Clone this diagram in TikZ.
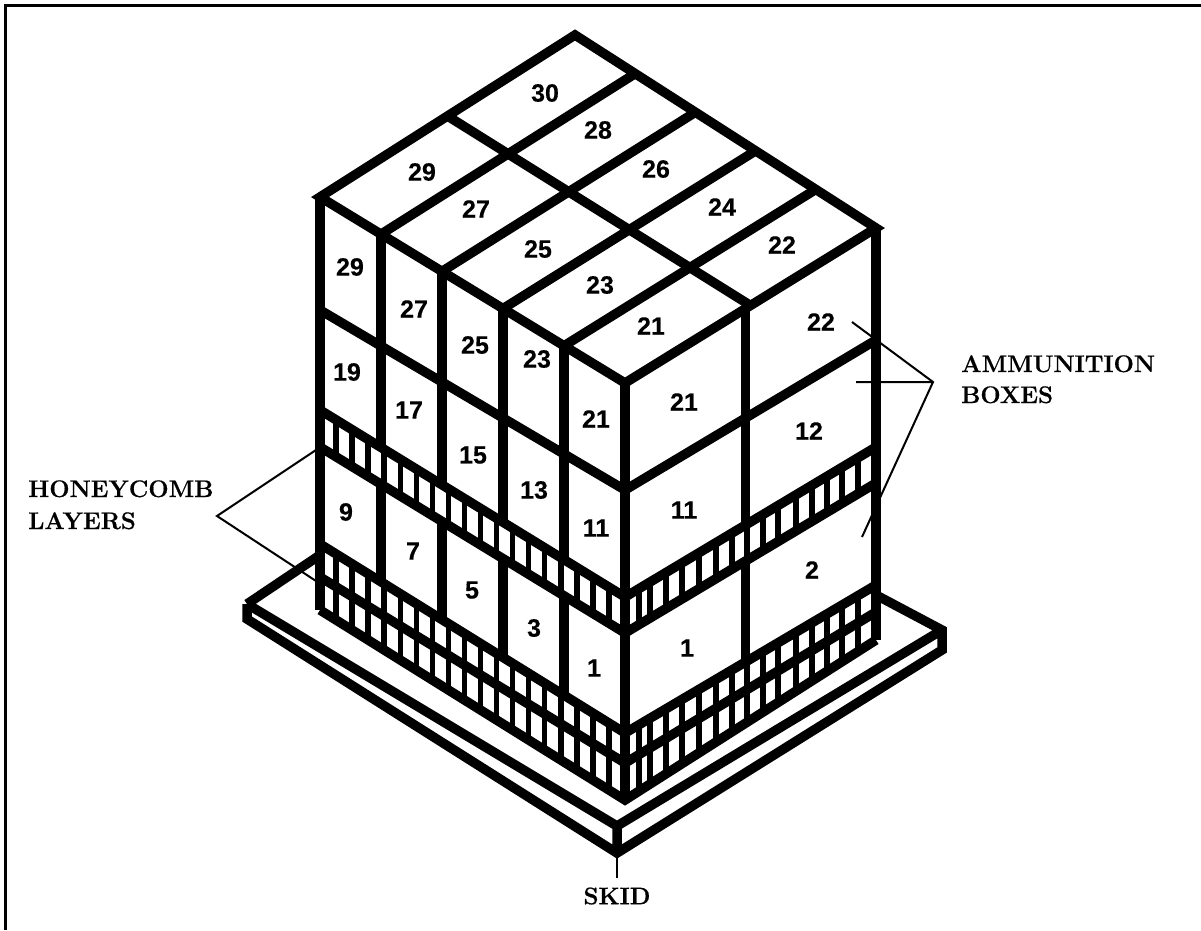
\documentclass[tikz,border=0pt]{standalone}
\usepackage{fontspec}
\usepackage{tikz}
\usetikzlibrary{calc}
\setmainfont{Latin Modern Roman}[BoldFeatures={FakeBold=0.5}]
\newfontfamily\numfont{Liberation Sans}[BoldFeatures={FakeBold=0.3}]
\tikzset{
    heavy/.style={line width=9.5pt, line join=miter},
    cellbar/.style={line width=5.5pt},
    leader/.style={line width=2pt},
    boxnum/.style={font=\numfont\bfseries\fontsize{25}{25}\selectfont, inner sep=0pt},
    callout/.style={font=\bfseries\fontsize{24}{28}\selectfont, inner sep=0pt, anchor=base west}
}
\begin{document}
\begin{tikzpicture}[x=1pt, y=-1pt]
    \useasboundingbox (0,0) rectangle (1201,930);
    \draw[line width=3pt] (5.5,930) -- (5.5,5.5) -- (1201,5.5);
    % levels on the left edge, the front edge and the right edge
    \coordinate (lt) at (320,197);  \coordinate (ft) at (625,383);  \coordinate (rt) at (876,228);
    \coordinate (la) at (320,310);  \coordinate (fa) at (625,490);  \coordinate (ra) at (876,340);
    \coordinate (lb) at (320,410);  \coordinate (fb) at (625,597);  \coordinate (rb) at (876,447);
    \coordinate (lc) at (320,447);  \coordinate (fc) at (625,633);  \coordinate (rc) at (876,483);
    \coordinate (ld) at (320,544);  \coordinate (fd) at (625,733);  \coordinate (rd) at (876,585);
    \coordinate (le) at (320,577);  \coordinate (fe) at (625,763);  \coordinate (re) at (876,612);
    \coordinate (lf) at (320,610);  \coordinate (ff) at (625,800);  \coordinate (rf) at (876,640);
    \coordinate (apex) at (575,35);
    % skid
    \coordinate (sl) at (247,604);  \coordinate (sf) at (617,826);  \coordinate (sr) at (942,630);
    \coordinate (slb) at (247,619); \coordinate (sfb) at (617,853); \coordinate (srb) at (942,650);
    \coordinate (sbl) at (320,555); \coordinate (sbr) at (876,595);
    \draw[heavy] (sl) -- (slb) -- (sfb) -- (srb) -- (sr) -- (sbr) (sf) -- (sfb)
        (sl) -- (sf) -- (sr) (sl) -- (sbl);
    \fill[white] (lt) -- (apex) -- (rt) -- (rf) -- (ff) -- (lf) -- cycle;
    % top face
    \draw[heavy] (lt) -- (apex) -- (rt) -- (ft) -- cycle;
    \draw[heavy] ($(lt)!0.5!(apex)$) -- ($(ft)!0.5!(rt)$);
    \foreach \k in {1,2,3,4}
        \draw[heavy] ($(lt)!\k/5!(ft)$) -- ($(apex)!\k/5!(rt)$);
    % levels
    \foreach \lv in {a,b,c,d,e,f}
        \draw[heavy] (l\lv) -- (f\lv) -- (r\lv);
    % uprights
    \draw[line width=10pt] (lt) -- (lf);
    \draw[heavy] (ft) -- (ff) (rt) -- (rf);
    \foreach \k in {1,2,3,4} {
        \draw[heavy] ($(lt)!\k/5!(ft)$) -- ($(lb)!\k/5!(fb)$);
        \draw[heavy] ($(lc)!\k/5!(fc)$) -- ($(ld)!\k/5!(fd)$);
    }
    \draw[heavy] ($(ft)!0.48!(rt)$) -- ($(fb)!0.48!(rb)$);
    \draw[heavy] ($(fc)!0.48!(rc)$) -- ($(fd)!0.48!(rd)$);
    % honeycomb bars
    \foreach \k in {1,...,18} {
        \draw[cellbar] ($(lb)!\k/19!(fb)$) -- ($(lc)!\k/19!(fc)$);
        \draw[cellbar] ($(ld)!\k/19!(fd)$) -- ($(lf)!\k/19!(ff)$);
    }
    \foreach \s in {639,650,666,682,699,716,732,747,763,778,796,812,827,842,858} {
        \draw[cellbar] ($(fb)!{(\s-625)/251}!(rb)$) -- ($(fc)!{(\s-625)/251}!(rc)$);
        \draw[cellbar] ($(fd)!{(\s-625)/251}!(rd)$) -- ($(ff)!{(\s-625)/251}!(rf)$);
    }
    % box numbers
    \node[boxnum] (top30) at (545,93) {30};
    \node[boxnum] (top29) at (422,172) {29};
    \node[boxnum] (top28) at (598,130) {28};
    \node[boxnum] (top27) at (476,209) {27};
    \node[boxnum] (top26) at (656,169) {26};
    \node[boxnum] (top25) at (538,249) {25};
    \node[boxnum] (top24) at (722,207) {24};
    \node[boxnum] (top23) at (600,285) {23};
    \node[boxnum] (top22) at (782,245) {22};
    \node[boxnum] (top21) at (651,326) {21};
    \node[boxnum] (left29) at (350,267) {29};
    \node[boxnum] (left27) at (414,309) {27};
    \node[boxnum] (left25) at (475,345) {25};
    \node[boxnum] (left23) at (537,359) {23};
    \node[boxnum] (left21) at (596,419) {21};
    \node[boxnum] (left19) at (347,372) {19};
    \node[boxnum] (left17) at (409,410) {17};
    \node[boxnum] (left15) at (473,455) {15};
    \node[boxnum] (left13) at (534,490) {13};
    \node[boxnum] (left11) at (596,528) {11};
    \node[boxnum] (left9) at (346,512) {9};
    \node[boxnum] (left7) at (413,551) {7};
    \node[boxnum] (left5) at (472,590) {5};
    \node[boxnum] (left3) at (534,628) {3};
    \node[boxnum] (left1) at (594,668) {1};
    \node[boxnum] (right22) at (821,322) {22};
    \node[boxnum] (right21) at (684,402) {21};
    \node[boxnum] (right12) at (809,431) {12};
    \node[boxnum] (right11) at (684,510) {11};
    \node[boxnum] (right2) at (812,570) {2};
    \node[boxnum] (right1) at (687,648) {1};
    % callouts
    \node[callout] (ammo) at (961,372) {AMMUNITION};
    \node[callout] (boxes) at (961,403) {BOXES};
    \node[callout] (comb) at (28,497) {HONEYCOMB};
    \node[callout] (layers) at (28,529) {LAYERS};
    \node[font=\bfseries\fontsize{24}{28}\selectfont, inner sep=0pt] (skid) at (617,896) {SKID};
    \coordinate (ammotip) at (933,382);
    \coordinate (combtip) at (217,516);
    \coordinate (ammo1) at (852,322);
    \coordinate (ammo2) at (856,382);
    \coordinate (ammo3) at (862,537);
    \coordinate (comb1) at (316,450);
    \coordinate (comb2) at (316,581);
    \draw[leader] (ammo1) -- (ammotip) -- (ammo3) (ammo2) -- (ammotip);
    \draw[leader] (comb1) -- (combtip) -- (comb2);
    \coordinate (skidtop) at (617,858);
    \draw[leader] (skidtop) -- ++(0,20);
\end{tikzpicture}
\end{document}
